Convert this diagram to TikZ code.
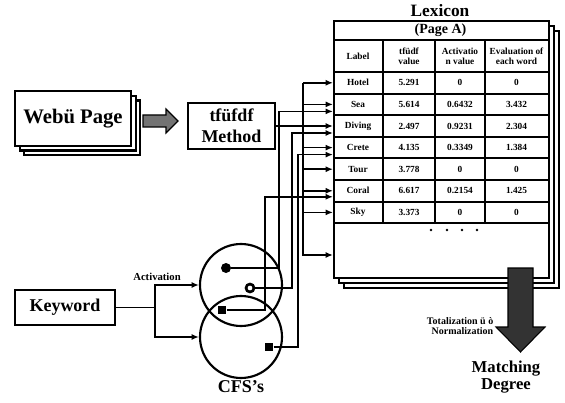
\documentclass[tikz,border=0pt]{standalone}
\usepackage{fontspec}
\setmainfont{Liberation Serif}
\usepackage{tikz}
\usetikzlibrary{shapes,arrows,arrows.meta,positioning,shadows,calc}

\begin{document}
\begin{tikzpicture}[x=0.75pt, y=-0.75pt, >={Latex[length=5.5pt,width=4.5pt]},
    box/.style={draw, line width=1.6pt, fill=white, align=center},
    wire/.style={line width=1.2pt},
    grid/.style={line width=1.4pt},
    cell/.style={font=\bfseries\fontsize{7}{7.5}\selectfont, inner sep=0pt, align=center},
    cfs/.style={circle, draw, line width=1.6pt, minimum size=61.5pt, inner sep=0pt},
    bigdot/.style={circle, fill=black, minimum size=7.5pt, inner sep=0pt},
    ringdot/.style={circle, draw, line width=2pt, fill=white, minimum size=6pt, inner sep=0pt},
    sqdot/.style={rectangle, fill=black, minimum size=6.5pt, inner sep=0pt}]

    \useasboundingbox (0,0) rectangle (565,403);

    % Web page stack
    \node[box, minimum width=87pt, minimum height=41pt,
          copy shadow={shadow xshift=7pt, shadow yshift=-7pt, draw, fill=white},
          copy shadow={shadow xshift=3.5pt, shadow yshift=-3.5pt, draw, fill=white},
          font=\bfseries\fontsize{15.5}{18}\selectfont] (webpage) at (73,118.5) {Webü Page};

    % Feed arrow (hatched)
    \draw[line width=0.8pt, fill=black!55] (143,115) -- (166,115) -- (166,109) -- (178,121)
        -- (166,133) -- (166,127) -- (143,127) -- cycle;

    % tf-idf box
    \node[box, minimum width=65pt, minimum height=35pt,
          font=\bfseries\fontsize{13.5}{16}\selectfont] (tfidf) at (231.5,126) {tfüfdf\\Method};

    % Lexicon pages
    \node[draw, line width=1.6pt, fill=white, anchor=north west, minimum width=161pt, minimum height=193pt,
          copy shadow={shadow xshift=7.5pt, shadow yshift=-7.5pt, draw, fill=white},
          copy shadow={shadow xshift=3.75pt, shadow yshift=-3.75pt, draw, fill=white}] (pageA) at (333,20) {};
    \node[font=\bfseries\fontsize{13}{14}\selectfont] (lextitle) at (440,11) {Lexicon};
    \node[font=\bfseries\fontsize{10.5}{12}\selectfont] (pagehead) at (440.5,30) {(Page A)};

    % Table grid
    \draw[grid] (333,40) -- (548,40);
    \draw[grid] (333,72) -- (548,72);
    \foreach \x in {383,435,485}
        \draw[grid] (\x,40) -- (\x,223.2);

    % Header
    \node[cell] (hlab) at (358,56) {Label};
    \node[cell] (htv) at (409,56) {tfüdf\\value};
    \node[cell] (hav) at (460,56) {Activatio\\n value};
    \node[cell] (hev) at (516.5,56) {Evaluation of\\each word};

    % Rows
    \foreach \name/\tv/\av/\ev [count=\i] in {Hotel/5.291/0/0, Sea/5.614/0.6432/3.432,
        Diving/2.497/0.9231/2.304, Crete/4.135/0.3349/1.384, Tour/3.778/0/0,
        Coral/6.617/0.2154/1.425, Sky/3.373/0/0} {
        \node[cell] (lab\i) at (358,{72+21.6*\i-10.8}) {\name};
        \node[cell] (tv\i) at (409,{72+21.6*\i-10.8}) {\tv};
        \node[cell] (av\i) at (460,{72+21.6*\i-10.8}) {\av};
        \node[cell] (ev\i) at (516.5,{72+21.6*\i-10.8}) {\ev};
        \draw[grid] (333,{72+21.6*\i}) -- (548,{72+21.6*\i});
    }

    % Continuation dots
    \foreach \x in {431,447,462,477}
        \fill (\x,230) circle (1.1pt);

    % Keyword and CFS's
    \node[box, minimum width=75pt, minimum height=26pt,
          font=\bfseries\fontsize{13.5}{15}\selectfont] (keyword) at (65,307.5) {Keyword};
    \node[cfs] (cfsA) at (241,285) {};
    \node[cfs] (cfsB) at (241,337) {};
    \node[bigdot] (dotA) at (226,268) {};
    \node[ringdot] (ringA) at (250,288) {};
    \node[sqdot] (sqA) at (222,310) {};
    \node[sqdot] (sqB) at (269,347) {};
    \node[font=\bfseries\fontsize{13.5}{15}\selectfont] (cfslabel) at (241,387) {CFS's};

    % Keyword wiring
    \coordinate (fork) at (155,307.5);
    \draw[wire] (keyword.east) -- (fork);
    \draw[wire,->] (fork) |- (cfsA.west);
    \draw[wire,->] (fork) |- (cfsB.west);
    \node[font=\bfseries\fontsize{8}{9}\selectfont] (actlabel) at (157,277) {Activation};

    % tf-idf bus into the lexicon
    \coordinate (bus) at (303,255);
    \coordinate (tail) at (333,255);
    \draw[wire] (tfidf.east) -- (tfidf.east -| bus);
    \draw[wire,->] (lab1 -| bus) -- (bus) -- (tail);
    \foreach \i in {1,...,7}
        \draw[wire,->] (lab\i -| bus) -- (lab\i -| pageA.west);

    % Activation lines from CFS's
    \coordinate (colA) at (279,0);
    \coordinate (colB) at (292,0);
    \coordinate (colC) at (298,0);
    \coordinate (colD) at (265,0);
    \draw[wire,->] (dotA) -- (dotA -| colA) |- ($(lab2 -| pageA.west)+(0,7)$);
    \draw[wire,->] (ringA) -- (ringA -| colB) |- ($(lab3 -| pageA.west)+(0,7)$);
    \draw[wire,->] (sqB) -- (sqB -| colC) |- ($(lab4 -| pageA.west)+(0,7)$);
    \draw[wire,->] (sqA) -- (sqA -| colD) |- ($(lab6 -| pageA.west)+(0,6)$);

    % Output arrow
    \draw[line width=0.8pt, fill=black!80] (508,268) -- (533,268) -- (533,327) -- (545,327)
        -- (520.5,352) -- (496,327) -- (508,327) -- cycle;
    \node[font=\bfseries\fontsize{7.5}{8}\selectfont, align=right, anchor=east] (total) at (498,326)
        {Totalization ü ò\\Normalization};
    \node[font=\bfseries\fontsize{12.5}{13}\selectfont, align=center] (match) at (506,377) {Matching\\Degree};
\end{tikzpicture}
\end{document}
